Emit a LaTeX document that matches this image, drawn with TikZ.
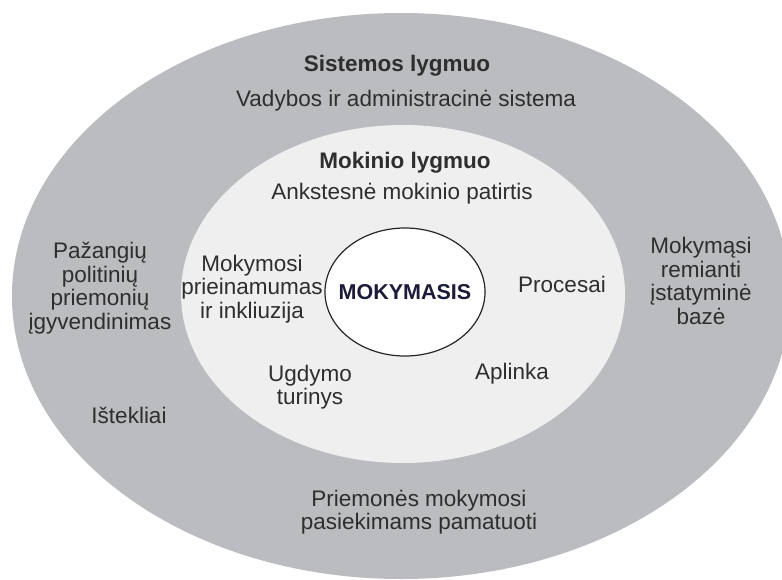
\documentclass[tikz,border=0pt]{standalone}
\usepackage{fontspec}
\setmainfont{Liberation Sans}
\definecolor{outergray}{HTML}{BBBCC0}
\definecolor{innergray}{HTML}{EFEFEF}
\definecolor{txt}{HTML}{2E2E2E}
\definecolor{navy}{HTML}{1C1C3A}
\begin{document}
\begin{tikzpicture}[x=1pt,y=-1pt,
  lbl/.style={text=txt,align=center,inner sep=0pt,font=\fontsize{22.5}{23.5}\selectfont},
  hdr/.style={lbl,font=\fontsize{22.5}{23.5}\selectfont\bfseries}]
\useasboundingbox (0,0) rectangle (782,579);
\fill[white] (0,0) rectangle (782,579);
\begin{scope}
\clip (0,0) rectangle (782,579);
\fill[outergray] (401,296) ellipse [x radius=389, y radius=283];
\fill[innergray] (403,294) ellipse [x radius=222, y radius=169];
\draw[fill=white,draw=black!85,line width=1.2pt] (405,292) ellipse [x radius=80, y radius=64];
\end{scope}
\node[hdr] (sys) at (397,66) {Sistemos lygmuo};
\node[lbl] (vad) at (406,101) {Vadybos ir administracinė sistema};
\node[hdr] (mok) at (405,163) {Mokinio lygmuo};
\node[lbl] (ank) at (402,194) {Ankstesnė mokinio patirtis};
\node[lbl] (pri) at (252,289) {Mokymosi\\prieinamumas\\ir inkliuzija};
\node[hdr,text=navy,font=\fontsize{21.5}{23}\selectfont\bfseries] (center) at (405,292) {MOKYMASIS};
\node[lbl] (proc) at (562,284) {Procesai};
\node[lbl] (ugd) at (310,387) {Ugdymo\\turinys};
\node[lbl] (apl) at (512,374) {Aplinka};
\node[lbl] (paz) at (100,288) {Pažangių\\politinių\\priemonių\\įgyvendinimas};
\node[lbl] (ist) at (129,415) {Ištekliai};
\node[lbl] (ist2) at (701,281) {Mokymąsi\\remianti\\įstatyminė\\bazė};
\node[lbl] (pam) at (419,512) {Priemonės mokymosi\\pasiekimams pamatuoti};
\end{tikzpicture}
\end{document}
